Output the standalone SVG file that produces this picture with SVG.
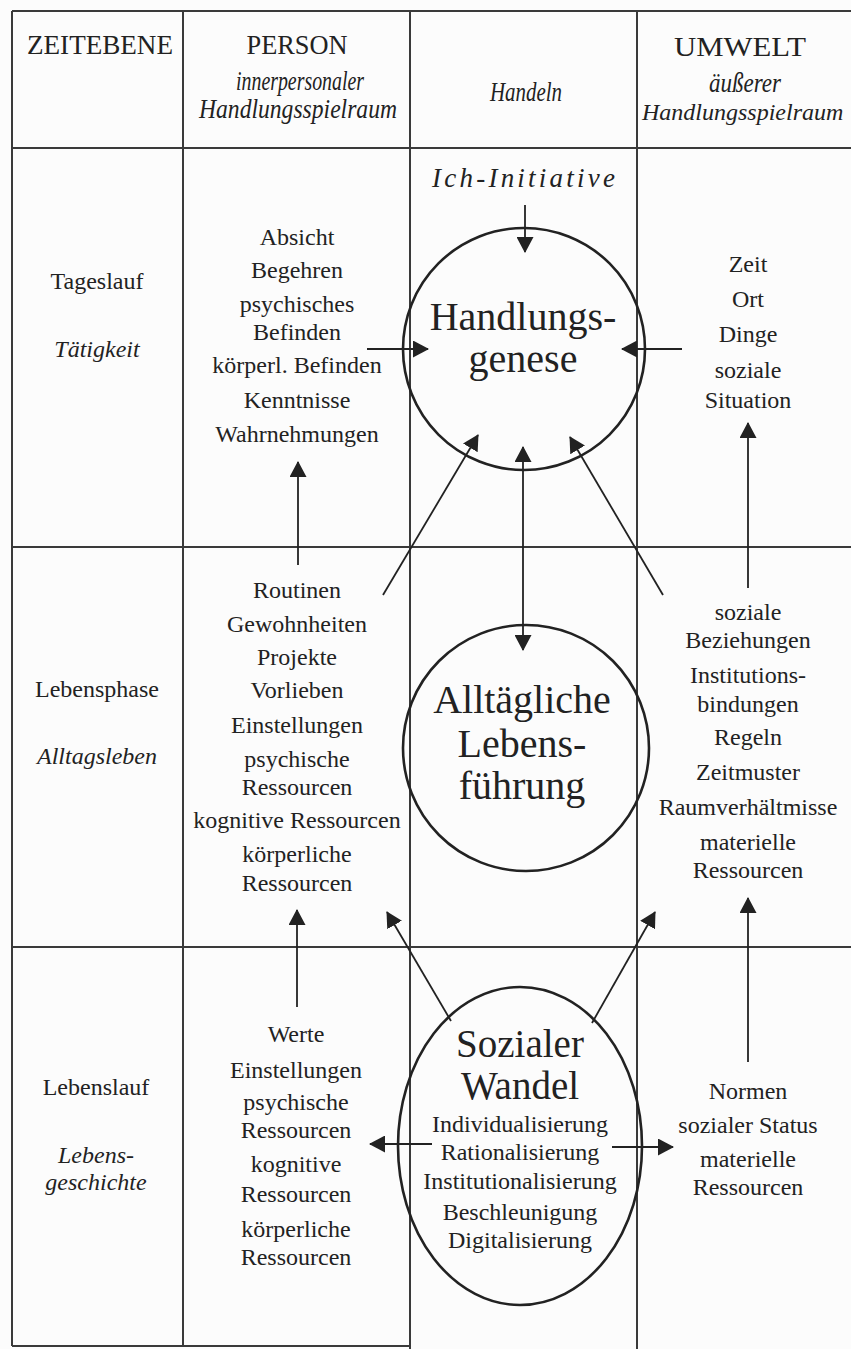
<svg xmlns="http://www.w3.org/2000/svg" width="851" height="1349" viewBox="0 0 851 1349" font-family="Liberation Serif, Times New Roman, serif">
<defs>
<style>
.grid line{stroke:#3a3a3a;stroke-width:2}
text{font-family:"Liberation Serif","Times New Roman",serif;fill:#222;text-anchor:middle}
.b{font-size:24px}
.i{font-style:italic}
.hd{font-size:28px}
.big{font-size:40px}
.ring{fill:none;stroke:#222;stroke-width:2.6}
#connectors line{stroke:#222;stroke-width:1.8;marker-end:url(#ah)}
</style>
<marker id="ah" viewBox="0 0 16 17" markerUnits="userSpaceOnUse" markerWidth="16" markerHeight="17" refX="15" refY="8.5" orient="auto-start-reverse"><path d="M0,0 L16,8.5 L0,17 z" fill="#222"/></marker>
</defs>
<rect width="851" height="1349" fill="#fcfcfc"/>
<g class="grid" id="grid">
<line x1="12" y1="11" x2="851" y2="11"/>
<line x1="12" y1="148" x2="851" y2="148"/>
<line x1="12" y1="547" x2="851" y2="547"/>
<line x1="12" y1="947" x2="851" y2="947"/>
<line x1="12" y1="1346" x2="410" y2="1346"/>
<line x1="12" y1="11" x2="12" y2="1346"/>
<line x1="183" y1="11" x2="183" y2="1346"/>
<line x1="410" y1="11" x2="410" y2="1349"/>
<line x1="637" y1="11" x2="637" y2="1349"/>
</g>
<g id="header">
<text class="hd" x="100" y="54" textLength="146" lengthAdjust="spacingAndGlyphs">ZEITEBENE</text>
<text class="hd" x="297" y="54" textLength="101" lengthAdjust="spacingAndGlyphs">PERSON</text>
<text class="hd i" x="300" y="90" textLength="128" lengthAdjust="spacingAndGlyphs">innerpersonaler</text>
<text class="hd i" x="298" y="118" textLength="198" lengthAdjust="spacingAndGlyphs">Handlungsspielraum</text>
<text class="hd i" x="526" y="101" textLength="72" lengthAdjust="spacingAndGlyphs">Handeln</text>
<text class="hd" x="740" y="56" textLength="132" lengthAdjust="spacingAndGlyphs">UMWELT</text>
<text class="hd i" x="745" y="92" textLength="72" lengthAdjust="spacingAndGlyphs">äußerer</text>
<text class="i" x="642" y="120" style="font-size:24px;text-anchor:start">Handlungsspielraum</text>
</g>
<g id="zeit-tageslauf">
<text class="b" x="97" y="289">Tageslauf</text>
<text class="b i" x="97" y="357">Tätigkeit</text>
</g>
<g id="person-tageslauf">
<text class="b" x="297" y="245">Absicht</text>
<text class="b" x="297" y="278">Begehren</text>
<text class="b" x="297" y="312">psychisches</text>
<text class="b" x="297" y="340">Befinden</text>
<text class="b" x="297" y="373">körperl. Befinden</text>
<text class="b" x="297" y="408">Kenntnisse</text>
<text class="b" x="297" y="442">Wahrnehmungen</text>
</g>
<g id="ich-initiative">
<text class="i" x="523.5" y="187" style="font-size:27px" textLength="183" lengthAdjust="spacing">Ich-Initiative</text>
</g>
<g id="handlungsgenese">
<circle class="ring" cx="524" cy="349" r="121"/>
<text class="big" x="523" y="330">Handlungs-</text>
<text class="big" x="523" y="372">genese</text>
</g>
<g id="umwelt-tageslauf">
<text class="b" x="748" y="272">Zeit</text>
<text class="b" x="748" y="307">Ort</text>
<text class="b" x="748" y="342">Dinge</text>
<text class="b" x="748" y="378">soziale</text>
<text class="b" x="748" y="408">Situation</text>
</g>
<g id="zeit-lebensphase">
<text class="b" x="97" y="697">Lebensphase</text>
<text class="b i" x="97" y="764">Alltagsleben</text>
</g>
<g id="person-lebensphase">
<text class="b" x="297" y="598">Routinen</text>
<text class="b" x="297" y="632">Gewohnheiten</text>
<text class="b" x="297" y="665">Projekte</text>
<text class="b" x="297" y="698">Vorlieben</text>
<text class="b" x="297" y="733">Einstellungen</text>
<text class="b" x="297" y="767">psychische</text>
<text class="b" x="297" y="795">Ressourcen</text>
<text class="b" x="297" y="828">kognitive Ressourcen</text>
<text class="b" x="297" y="862">körperliche</text>
<text class="b" x="297" y="891">Ressourcen</text>
</g>
<g id="lebensfuehrung">
<circle class="ring" cx="526" cy="748" r="123"/>
<text class="big" x="522" y="713">Alltägliche</text>
<text class="big" x="522" y="757">Lebens-</text>
<text class="big" x="522" y="799">führung</text>
</g>
<g id="umwelt-lebensphase">
<text class="b" x="748" y="620">soziale</text>
<text class="b" x="748" y="648">Beziehungen</text>
<text class="b" x="748" y="683">Institutions-</text>
<text class="b" x="748" y="712">bindungen</text>
<text class="b" x="748" y="745">Regeln</text>
<text class="b" x="748" y="780">Zeitmuster</text>
<text class="b" x="748" y="815">Raumverhältmisse</text>
<text class="b" x="748" y="850">materielle</text>
<text class="b" x="748" y="878">Ressourcen</text>
</g>
<g id="zeit-lebenslauf">
<text class="b" x="96" y="1095">Lebenslauf</text>
<text class="b i" x="96" y="1163">Lebens-</text>
<text class="b i" x="96" y="1190">geschichte</text>
</g>
<g id="person-lebenslauf">
<text class="b" x="296" y="1042">Werte</text>
<text class="b" x="296" y="1078">Einstellungen</text>
<text class="b" x="296" y="1110">psychische</text>
<text class="b" x="296" y="1138">Ressourcen</text>
<text class="b" x="296" y="1172">kognitive</text>
<text class="b" x="296" y="1202">Ressourcen</text>
<text class="b" x="296" y="1237">körperliche</text>
<text class="b" x="296" y="1265">Ressourcen</text>
</g>
<g id="sozialer-wandel">
<ellipse class="ring" cx="520" cy="1146" rx="122" ry="159"/>
<text class="big" x="520" y="1057" style="font-size:39px">Sozialer</text>
<text class="big" x="520" y="1099" style="font-size:39px">Wandel</text>
<text class="b" x="520" y="1132">Individualisierung</text>
<text class="b" x="520" y="1160">Rationalisierung</text>
<text class="b" x="520" y="1189">Institutionalisierung</text>
<text class="b" x="520" y="1220">Beschleunigung</text>
<text class="b" x="520" y="1248">Digitalisierung</text>
</g>
<g id="umwelt-lebenslauf">
<text class="b" x="748" y="1099">Normen</text>
<text class="b" x="748" y="1133">sozialer Status</text>
<text class="b" x="748" y="1167">materielle</text>
<text class="b" x="748" y="1195">Ressourcen</text>
</g>
<g id="connectors">
<line x1="525" y1="205" x2="525" y2="252"/>
<line x1="367" y1="349" x2="428" y2="349"/>
<line x1="682" y1="349" x2="622" y2="349"/>
<line x1="298" y1="565" x2="298" y2="462"/>
<line x1="383" y1="595" x2="478" y2="435"/>
<line x1="523" y1="650" x2="523" y2="447" style="marker-start:url(#ah)"/>
<line x1="663" y1="595" x2="570" y2="437"/>
<line x1="748" y1="588" x2="748" y2="423"/>
<line x1="297" y1="1007" x2="297" y2="910"/>
<line x1="451" y1="1021" x2="387" y2="912"/>
<line x1="592" y1="1023" x2="655" y2="912"/>
<line x1="748" y1="1062" x2="748" y2="898"/>
<line x1="432" y1="1144" x2="370" y2="1144"/>
<line x1="612" y1="1147" x2="673" y2="1147"/>
</g>
</svg>
